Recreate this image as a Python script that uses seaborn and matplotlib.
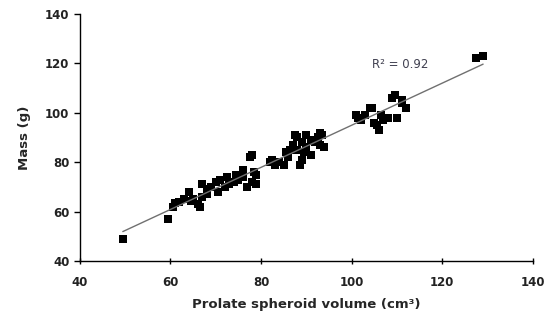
import matplotlib
matplotlib.use("Agg")
import matplotlib.pyplot as plt
import seaborn as sns
import pandas as pd
import numpy as np

volume = [49.5, 59.5, 60.5, 61, 62, 63, 64, 64.5, 65, 66, 66.5, 67, 67, 68, 68, 69, 70, 70.5,
          71, 72, 72.5, 73, 74, 74.5, 75, 76, 76, 77, 77.5, 78, 78, 78.5, 79, 79,
          82, 82.5, 83, 84, 85, 85.5, 86, 86.5, 87, 87.5, 88, 88, 88.5, 89, 89, 89.5,
          90, 90, 91, 91, 92, 92.5, 93, 93, 93.5, 94,
          101, 101.5, 102, 103, 104, 104.5, 105, 105.5, 106, 106.5, 107, 108, 109, 109.5,
          110, 111, 111, 112, 127.5, 129]
mass = [49, 57, 62, 63.5, 64, 65, 68, 64.5, 65, 63, 62, 71, 66, 67, 69, 70, 72, 68,
        73, 70, 74, 71, 72, 75, 73, 74, 77, 70, 82, 83, 72, 76, 71, 75,
        80, 81, 79, 80, 79, 84, 82, 85, 87, 91, 90, 85, 79, 88, 81, 84,
        91, 86, 89, 83, 88, 90, 92, 87, 91, 86,
        99, 98, 97, 99, 102, 102, 96, 95, 93, 99, 97, 98, 106, 107,
        98, 105, 104, 102, 122, 123]
r2_label = "R² = 0.92"

df = pd.DataFrame({"volume": volume, "mass": mass})

sns.set_style("white")
fig = plt.figure(figsize=(5.5, 3.22), dpi=100)
ax = fig.add_axes([0.145, 0.189, 0.824, 0.768])

sns.regplot(data=df, x="volume", y="mass", ax=ax, ci=None, marker="s",
            scatter_kws=dict(s=34, color="black", linewidths=0, alpha=1),
            line_kws=dict(color="#707070", linewidth=1.0))

ax.set_xlim(40, 140)
ax.set_ylim(40, 140)
ax.set_xticks([40, 60, 80, 100, 120, 140])
ax.set_yticks([40, 60, 80, 100, 120, 140])
for s in ["top", "right"]:
    ax.spines[s].set_visible(False)
for s in ["left", "bottom"]:
    ax.spines[s].set_color("black")
    ax.spines[s].set_linewidth(1.0)
ax.tick_params(axis="y", direction="out", length=4, width=1, color="black", left=True)
ax.tick_params(axis="x", direction="inout", length=5, width=1, color="black", bottom=True)
for lab in ax.get_xticklabels() + ax.get_yticklabels():
    lab.set_fontweight("bold")
    lab.set_fontsize(8.5)
    lab.set_color("#222222")
ax.tick_params(axis="x", pad=8)
ax.set_xlabel("Prolate spheroid volume (cm³)", fontsize=9.5, fontweight="bold", labelpad=7)
ax.set_ylabel("Mass (g)", fontsize=9.5, fontweight="bold", labelpad=10)
ax.text(104.5, 119.5, r2_label, fontsize=8.5, color="#404050", ha="left", va="center")

fig.savefig("out.png", dpi=100)
